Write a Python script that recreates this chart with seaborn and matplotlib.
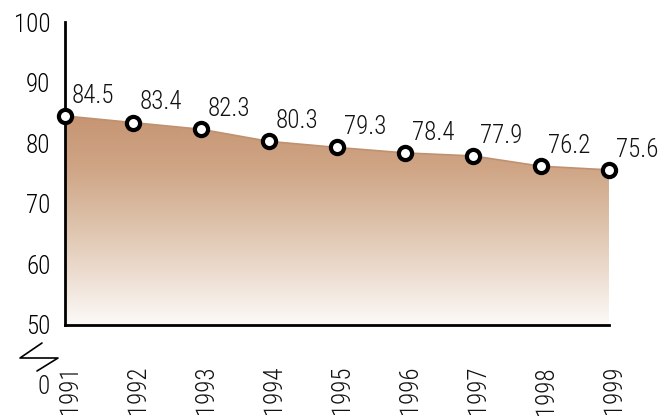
import numpy as np
import matplotlib
matplotlib.use("Agg")
import matplotlib.pyplot as plt
from matplotlib.colors import LinearSegmentedColormap
from matplotlib.lines import Line2D
import pandas as pd
import seaborn as sns

years = [1991, 1992, 1993, 1994, 1995, 1996, 1997, 1998, 1999]
values = [84.5, 83.4, 82.3, 80.3, 79.3, 78.4, 77.9, 76.2, 75.6]
y_ticks = [50, 60, 70, 80, 90, 100]

sns.set_style("white")
plt.rcParams["font.family"] = ["Roboto Condensed", "DejaVu Sans"]
plt.rcParams["font.weight"] = 300

W, H = 667, 420
fig = plt.figure(figsize=(W / 100, H / 100), dpi=100)
ax = fig.add_axes([65 / W, 95 / H, 544 / W, 303 / H])

df = pd.DataFrame({"year": years, "value": values})

ax.set_xlim(years[0], years[-1])
ax.set_ylim(50, 100)

# gradient fill under the line, clipped to the area polygon
cmap = LinearSegmentedColormap.from_list(
    "tan", [(0.0, "#fcfaf8"), (0.25, "#ecdccf"), (0.5, "#dcc0a8"),
            (0.75, "#cfa585"), (1.0, "#c69573")])
grad = np.linspace(0, 1, 256).reshape(-1, 1)
img = ax.imshow(grad, cmap=cmap, aspect="auto", origin="lower",
                extent=[years[0], years[-1], 50, max(values)], zorder=1)
poly = ax.fill_between(df["year"], df["value"], 50, color="none", lw=0)
clip = poly.get_paths()[0]
img.set_clip_path(clip, transform=ax.transData)

sns.lineplot(data=df, x="year", y="value", ax=ax, color="#c0916f", lw=1.2,
             marker="o", markersize=9.5, markerfacecolor="white",
             markeredgecolor="black", markeredgewidth=3, zorder=4,
             clip_on=False)

for x, v in zip(years, values):
    ax.annotate(f"{v:.1f}", (x, v), xytext=(5, 6), textcoords="offset points",
                ha="left", va="bottom", fontsize=18, color="#111111",
                zorder=5)

ax.set_yticks(y_ticks)
ax.set_xticks(years)
ax.set_xticklabels([])
ax.tick_params(axis="y", labelsize=18, direction="inout", length=9,
               width=1.8, pad=6, colors="black")
ax.tick_params(axis="x", direction="inout", length=9, width=1.8,
               colors="black")
for side in ["top", "right"]:
    ax.spines[side].set_visible(False)
for side in ["left", "bottom"]:
    ax.spines[side].set_linewidth(2)
    ax.spines[side].set_color("black")
ax.set_xlabel("")
ax.set_ylabel("")

# year labels, rotated below the axis
for x in years:
    px = ax.transData.transform((x, 50))[0]
    fig.text((px + 5) / W, 1 - 366 / H, str(x), rotation=90, ha="center",
             va="top", fontsize=18, color="#111111")

# axis break mark and the zero label
bx = [42, 20, 58, 37]
by = [343, 358, 358, 371]
fig.add_artist(Line2D([v / W for v in bx], [1 - v / H for v in by],
                      color="black", lw=1.2))
fig.text(44 / W, 1 - 387 / H, "0", ha="center", va="center", fontsize=18,
         color="#111111")

fig.savefig("out.png", dpi=100)
